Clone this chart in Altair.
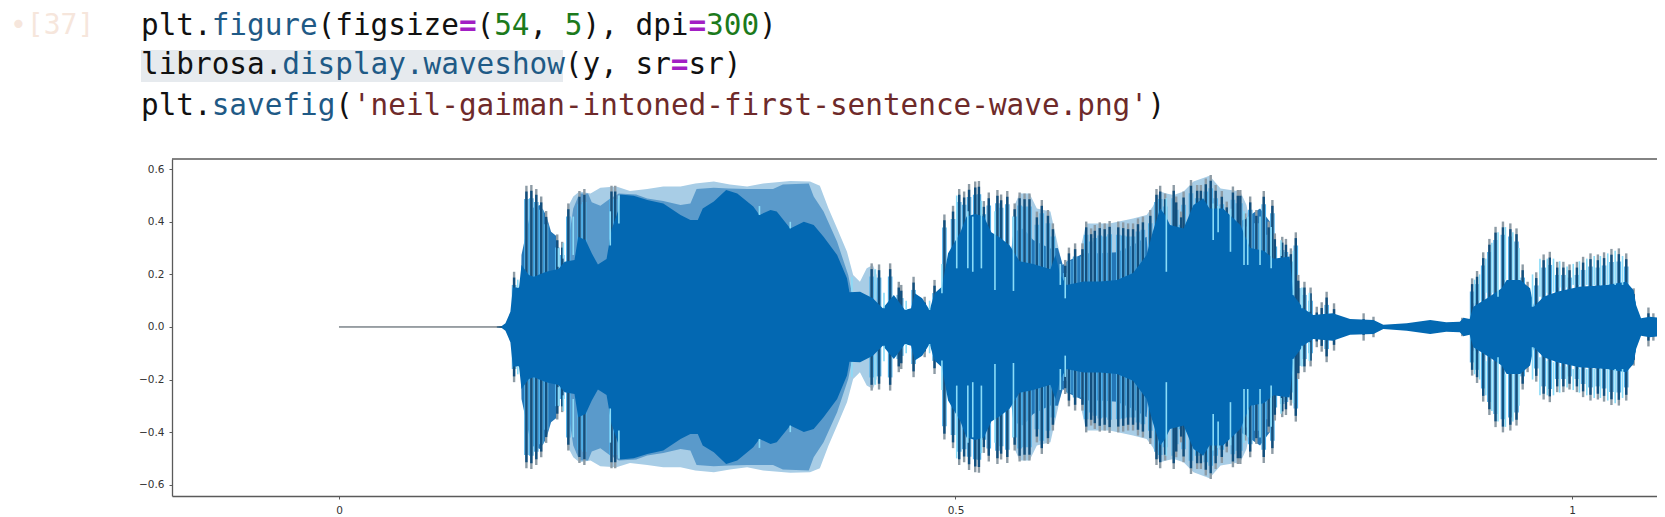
import altair as alt
import pandas as pd

# ---- waveform readings: time in seconds, amplitude (mirrored about zero) ----
quiet_t = [0.0, 0.132]

core_t = [0.128,0.132,0.135,0.139,0.141,0.146,0.148,0.154,0.158,0.168,0.178,0.183,0.191,0.194,0.200,0.205,0.210,0.217,0.221,0.227,0.228,0.239,0.250,0.263,0.277,0.285,0.291,0.295,0.304,0.314,0.323,0.336,0.341,0.350,0.355,0.366,0.377,0.385,0.393,0.404,0.412,0.414,0.4226,0.433,0.441,0.450,0.459,0.464,0.467,0.473,0.479,0.483,0.489,0.494,0.504,0.509,0.516,0.523,0.529,0.536,0.544,0.552,0.563,0.577,0.581,0.585,0.590,0.604,0.617,0.631,0.644,0.655,0.660,0.666,0.670,0.674,0.685,0.693,0.701,0.706,0.717,0.731,0.739,0.750,0.758,0.771,0.774,0.782,0.790,0.806,0.820,0.839,0.847,0.866,0.885,0.898,0.909,0.912,0.917,0.920,0.933,0.943,0.947,0.958,0.966,0.969,0.977,0.988,1.006,1.028,1.044,1.050,1.052,1.056,1.063,1.0754]
core_a = [0.002,0.004,0.014,0.058,0.150,0.150,0.236,0.198,0.191,0.210,0.221,0.248,0.255,0.343,0.331,0.280,0.238,0.259,0.369,0.451,0.504,0.499,0.483,0.470,0.426,0.407,0.407,0.451,0.477,0.521,0.508,0.458,0.426,0.445,0.439,0.375,0.400,0.388,0.343,0.274,0.185,0.132,0.134,0.109,0.071,0.122,0.065,0.071,0.128,0.109,0.065,0.128,0.153,0.280,0.360,0.420,0.430,0.420,0.360,0.340,0.310,0.250,0.240,0.220,0.274,0.198,0.160,0.173,0.173,0.179,0.205,0.274,0.362,0.451,0.426,0.388,0.375,0.464,0.489,0.451,0.451,0.388,0.300,0.290,0.260,0.268,0.122,0.071,0.046,0.052,0.030,0.027,0.008,0.014,0.027,0.018,0.020,0.035,0.030,0.077,0.115,0.147,0.179,0.179,0.147,0.077,0.115,0.134,0.153,0.160,0.172,0.140,0.084,0.033,0.039,0.033]

mottled_t = [0.147,0.148,0.152,0.156,0.163,0.168,0.172,0.177,0.178,0.179,0.543,0.544,0.547,0.555,0.563,0.571,0.577,0.583,0.587,0.590,0.604,0.617,0.631,0.644,0.655,0.660,0.730,0.731,0.747,0.755,0.759,0.760]
mottled_a = [0.0,0.274,0.362,0.451,0.464,0.426,0.362,0.343,0.221,0.0,0.0,0.236,0.362,0.375,0.331,0.312,0.299,0.300,0.236,0.248,0.280,0.280,0.284,0.312,0.343,0.0,0.0,0.400,0.451,0.400,0.250,0.0]

mid_t = [0.185,0.186,0.190,0.195,0.202,0.205,0.212,0.220,0.227,0.241,0.250,0.263,0.277,0.285,0.290,0.304,0.316,0.331,0.352,0.360,0.381,0.385,0.393,0.404,0.413,0.416,0.417]
mid_a = [0.0,0.324,0.451,0.508,0.508,0.474,0.461,0.489,0.508,0.504,0.489,0.479,0.464,0.470,0.525,0.530,0.527,0.525,0.525,0.542,0.546,0.496,0.439,0.324,0.198,0.128,0.0]

light_t = [0.184,0.185,0.190,0.195,0.204,0.212,0.225,0.236,0.250,0.263,0.277,0.289,0.304,0.317,0.331,0.344,0.366,0.382,0.390,0.397,0.404,0.412,0.417,0.4225,0.428,0.433,0.436,0.437,0.547,0.548,0.552,0.560,0.566,0.577,0.586,0.587,0.601,0.602,0.606,0.625,0.644,0.655,0.660,0.666,0.671,0.677,0.685,0.693,0.706,0.715,0.731,0.736,0.740,0.741]
light_a = [0.0,0.451,0.496,0.515,0.508,0.530,0.534,0.517,0.525,0.534,0.534,0.546,0.553,0.542,0.534,0.546,0.555,0.553,0.537,0.451,0.375,0.286,0.198,0.172,0.223,0.236,0.198,0.0,0.0,0.464,0.508,0.508,0.451,0.439,0.248,0.0,0.0,0.312,0.394,0.394,0.413,0.426,0.458,0.515,0.508,0.502,0.515,0.553,0.575,0.527,0.515,0.464,0.360,0.0]

spike_t = [0.142,0.152,0.156,0.160,0.164,0.168,0.177,0.181,0.186,0.195,0.199,0.221,0.224,0.432,0.438,0.447,0.454,0.456,0.466,0.475,0.483,0.491,0.498,0.503,0.507,0.511,0.516,0.519,0.523,0.527,0.534,0.537,0.542,0.548,0.552,0.556,0.560,0.566,0.570,0.575,0.579,0.589,0.592,0.597,0.603,0.606,0.610,0.613,0.617,0.621,0.625,0.632,0.636,0.640,0.644,0.648,0.652,0.658,0.663,0.666,0.670,0.677,0.679,0.683,0.685,0.691,0.696,0.699,0.703,0.707,0.711,0.716,0.720,0.725,0.729,0.731,0.735,0.739,0.744,0.750,0.754,0.757,0.759,0.765,0.768,0.772,0.776,0.778,0.783,0.788,0.793,0.797,0.801,0.807,0.831,0.839,0.911,0.919,0.923,0.928,0.933,0.938,0.944,0.950,0.955,0.960,0.964,0.971,0.977,0.982,0.988,0.993,0.998,1.004,1.009,1.015,1.021,1.026,1.032,1.038,1.044,1.050,1.062,1.066,1.070]
spike_a = [0.210,0.537,0.540,0.525,0.496,0.441,0.352,0.324,0.470,0.517,0.525,0.537,0.537,0.242,0.238,0.242,0.172,0.160,0.191,0.115,0.179,0.428,0.461,0.525,0.515,0.544,0.553,0.555,0.479,0.512,0.521,0.504,0.517,0.470,0.512,0.508,0.508,0.439,0.483,0.445,0.394,0.255,0.302,0.318,0.318,0.401,0.375,0.388,0.398,0.394,0.403,0.401,0.398,0.394,0.394,0.413,0.420,0.445,0.525,0.537,0.508,0.540,0.496,0.439,0.515,0.559,0.540,0.540,0.565,0.578,0.540,0.517,0.477,0.534,0.521,0.521,0.432,0.496,0.445,0.517,0.401,0.483,0.356,0.343,0.335,0.299,0.360,0.198,0.172,0.150,0.077,0.094,0.134,0.090,0.052,0.039,0.035,0.185,0.213,0.284,0.335,0.381,0.401,0.394,0.375,0.238,0.172,0.208,0.276,0.286,0.248,0.248,0.238,0.248,0.267,0.280,0.276,0.284,0.297,0.299,0.280,0.147,0.074,0.052,0.052]

gap_t = [0.145,0.178,0.182,0.190,0.220,0.227,0.341,0.366,0.416,0.435,0.442,0.460,0.479,0.489,0.501,0.510,0.514,0.521,0.532,0.547,0.585,0.589,0.671,0.709,0.713,0.723,0.737,0.747,0.734,0.756,0.764,0.774,0.781,0.787,0.921,0.925,0.930,0.935,0.940,0.946,0.952,0.957,0.968,0.974,0.980,0.985,0.990,0.996,1.001,1.006,1.012,1.018,1.023,1.029,1.035,1.041]
gap_low = [0.150,0.229,0.260,0.274,0.310,0.394,0.426,0.375,0.134,0.109,0.071,0.065,0.065,0.128,0.223,0.223,0.210,0.223,0.141,0.137,0.160,0.109,0.210,0.331,0.360,0.286,0.236,0.236,0.236,0.223,0.270,0.122,0.071,0.058,0.090,0.100,0.130,0.130,0.115,0.180,0.180,0.180,0.077,0.115,0.130,0.134,0.150,0.150,0.160,0.160,0.160,0.160,0.160,0.160,0.160,0.160]
gap_high = [0.180,0.300,0.320,0.420,0.440,0.500,0.460,0.400,0.190,0.220,0.130,0.100,0.100,0.240,0.500,0.440,0.420,0.480,0.440,0.420,0.240,0.190,0.490,0.470,0.460,0.450,0.420,0.420,0.440,0.380,0.330,0.290,0.150,0.130,0.180,0.200,0.260,0.320,0.360,0.380,0.360,0.300,0.200,0.260,0.260,0.260,0.250,0.230,0.240,0.250,0.260,0.270,0.270,0.280,0.290,0.270]

x_ticks = [0, 0.5, 1]
y_ticks = [-0.6, -0.4, -0.2, 0.0, 0.2, 0.4, 0.6]

# ---- notebook code text: (text, first character column, colour key) ----
line1 = [("plt.",0,"k"),("figure",4,"b"),("(figsize",10,"k"),("=",18,"p"),("(",19,"k"),("54",20,"g"),(",",22,"k"),("5",24,"g"),("),",25,"k"),("dpi",28,"k"),("=",31,"p"),("300",32,"g"),(")",35,"k")]
line2 = [("librosa.",0,"k"),("display.waveshow",8,"b"),("(y,",24,"k"),("sr",28,"k"),("=",30,"p"),("sr)",31,"k")]
line3 = [("plt.",0,"k"),("savefig",4,"b"),("(",11,"k"),("'neil-gaiman-intoned-first-sentence-wave.png'",12,"r"),(")",57,"k")]
palette = {"k":"#111111","b":"#1f5a86","p":"#a21fc4","g":"#1c7a1c","r":"#6e2a2a"}
prompt = "•[37]"

CORE, MID, LIGHT, MOTTLED = "#0368b2", "#5a9acb", "#a8cde6", "#2476b6"
GAP, TIP, DARK, HALO = "#8adcf8", "#8d9ba5", "#124f7e", "#4fb0ea"
FRAME = "#5a5a5a"
W, H = 1485, 337

xs = alt.Scale(domain=[-0.13544, 1.06894], nice=False, zero=False)
ys = alt.Scale(domain=[-0.643, 0.639], nice=False, zero=False)
xaxis = alt.Axis(values=x_ticks, format="~g", title=None, grid=False, domainColor=FRAME, domainWidth=1.3,
                 tickColor=FRAME, tickSize=3, labelColor="#333333", labelFontSize=10.5, labelPadding=6,
                 labelFont="DejaVu Sans", labelFlush=False)
yaxis = alt.Axis(values=y_ticks, format=".1f", title=None, grid=False, domainColor=FRAME, domainWidth=1.3,
                 tickColor=FRAME, tickSize=3, labelColor="#333333", labelFontSize=10.5, labelPadding=5,
                 labelFont="DejaVu Sans")
X = alt.X("t:Q", scale=xs, axis=xaxis)
Y = alt.Y("a:Q", scale=ys, axis=yaxis)


def band(ts, amps, colour):
    return (alt.Chart(pd.DataFrame({"t": ts, "a": amps}))
            .transform_calculate(b="-datum.a")
            .mark_area(color=colour, opacity=1, interpolate="linear", clip=True)
            .encode(x=X, y=Y, y2="b:Q"))


spikes = pd.DataFrame({"t": spike_t, "a": spike_a})
spike_halo = (alt.Chart(spikes).transform_calculate(u="datum.a-0.05", b="-datum.a+0.05")
              .transform_filter("datum.u > 0")
              .mark_rule(color=HALO, strokeWidth=4.6)
              .encode(x=X, y=alt.Y("u:Q", scale=ys, axis=yaxis), y2="b:Q"))
spike_tip = (alt.Chart(spikes).transform_calculate(b="-datum.a")
             .mark_rule(color=TIP, strokeWidth=2.4).encode(x=X, y=Y, y2="b:Q"))
spike_body = (alt.Chart(spikes).transform_calculate(u="datum.a-0.022", b="-datum.a+0.022")
              .transform_filter("datum.u > 0")
              .mark_rule(color=DARK, strokeWidth=2.4)
              .encode(x=X, y=alt.Y("u:Q", scale=ys, axis=yaxis), y2="b:Q"))

gaps = pd.DataFrame({"t": gap_t, "a": gap_low, "h": gap_high})
gap_up = alt.Chart(gaps).mark_rule(color=GAP, strokeWidth=1.6).encode(x=X, y=Y, y2="h:Q")
gap_down = (alt.Chart(gaps).transform_calculate(m="-datum.a", n="-datum.h")
            .mark_rule(color=GAP, strokeWidth=1.6)
            .encode(x=X, y=alt.Y("m:Q", scale=ys, axis=yaxis), y2="n:Q"))

baseline = (alt.Chart(pd.DataFrame({"t": [quiet_t[0]], "t2": [quiet_t[1]], "a": [0.0]}))
            .mark_rule(color="#3b4650", strokeWidth=1)
            .encode(x=X, x2="t2:Q", y=Y))

one = pd.DataFrame({"k": [0]})
top_line = alt.Chart(one).mark_rule(color=FRAME, strokeWidth=1.3).encode(
    x=alt.value(0), x2=alt.value(W), y=alt.value(0))
highlight = alt.Chart(one).mark_rect(color="#e6eaee").encode(
    x=alt.value(-31), x2=alt.value(391), y=alt.value(-109), y2=alt.value(-77))

text_layers = []
for segs, base in ((line1, -124), (line2, -85), (line3, -44)):
    for s, col, key in segs:
        text_layers.append(
            alt.Chart(pd.DataFrame({"s": [s]}))
            .mark_text(font="DejaVu Sans Mono", fontSize=29.35, align="left", baseline="alphabetic",
                       color=palette[key], fontWeight="bold" if key == "p" else "normal")
            .encode(text="s:N", x=alt.value(-31 + col * 17.66), y=alt.value(base)))
prompt_text = (alt.Chart(pd.DataFrame({"s": [prompt]}))
               .mark_text(font="DejaVu Sans Mono", fontSize=28, align="left", baseline="alphabetic", color="#f6e6dc")
               .encode(text="s:N", x=alt.value(-162), y=alt.value(-125)))

chart = alt.layer(
    highlight,
    band(light_t, light_a, LIGHT),
    band(mid_t, mid_a, MID),
    band(mottled_t, mottled_a, MOTTLED),
    spike_halo, spike_tip, spike_body,
    band(core_t, core_a, CORE),
    gap_up, gap_down,
    baseline, top_line,
    prompt_text,
    *text_layers,
).properties(
    width=W, height=H,
    autosize=alt.AutoSizeParams(type="none"),
    padding={"left": 164, "top": 151, "right": 0, "bottom": 21},
).configure_view(stroke=None)

chart.save("out.html", embed_options={"renderer": "svg", "actions": False})
